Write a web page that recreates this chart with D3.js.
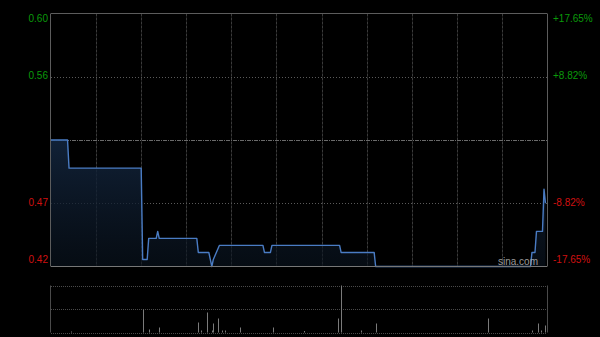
<!DOCTYPE html>
<html>
<head>
<meta charset="utf-8">
<script src="https://cdn.jsdelivr.net/npm/d3@7"></script>
<style>
  html, body { margin: 0; padding: 0; background: #000; }
  svg { display: block; font-family: "Liberation Sans", Arial, sans-serif; }
</style>
</head>
<body>
<div id="container"></div>
<script>
// intraday data, minutes since open (HK session, 330 min) and price
const minutes = [0, 11, 12, 60, 61, 64, 65, 70, 71, 72, 97, 98, 105, 107, 108, 110, 112,
  141, 142, 146, 147, 192, 193, 215, 216, 319, 320, 322, 323, 327, 328, 329];
const prices = [0.51, 0.51, 0.49, 0.49, 0.425, 0.425, 0.44, 0.44, 0.445, 0.44, 0.44, 0.43, 0.43, 0.42, 0.425, 0.43, 0.435,
  0.435, 0.43, 0.43, 0.435, 0.435, 0.43, 0.43, 0.42, 0.42, 0.43, 0.43, 0.445, 0.445, 0.475, 0.465];

// volume bars (minute, volume)
const volMinutes = [13, 61, 65, 72, 98, 100, 104, 107, 108, 111, 114, 116, 126, 148, 168,
  191, 193, 206, 216, 291, 320, 324, 326, 329];
const volumes = [10, 230, 30, 50, 100, 20, 200, 20, 90, 140, 20, 20, 50, 50, 15,
  140, 470, 20, 90, 140, 20, 90, 20, 70];

const prevClose = 0.51;
const priceTicks = [0.60, 0.555, 0.51, 0.465, 0.42];
const priceLabels = ["0.60", "0.56", "", "0.47", "0.42"];
const pctLabels = ["+17.65%", "+8.82%", "", "-8.82%", "-17.65%"];
const timeGrid = [30, 60, 90, 120, 150, 180, 210, 240, 270, 300];

const W = 600, H = 337;
const plot = { left: 51, right: 547, top: 13.5, bottom: 266.5 };
const vol = { top: 285.5, bottom: 332.5 };

const svg = d3.select('#container').append('svg')
  .attr('width', W).attr('height', H)
  .style('background', '#000');

const x = d3.scaleLinear().domain([0, 330]).range([plot.left, plot.right]);
const y = d3.scaleLinear().domain([0.42, 0.60]).range([plot.bottom, plot.top]);
const yv = d3.scaleLinear().domain([0, 470]).range([vol.bottom, vol.top]);

const green = '#0a9a0a', red = '#d01010';

// vertical grid lines in the price panel
const grid = svg.append('g');
grid.selectAll('line.vp').data(timeGrid).enter().append('line')
  .attr('x1', d => Math.round(x(d)) + 0.5).attr('x2', d => Math.round(x(d)) + 0.5)
  .attr('y1', plot.top).attr('y2', plot.bottom)
  .attr('stroke', '#3a3a3a').attr('stroke-dasharray', '3,1');

// horizontal price grid, prev close is dash-dot
grid.selectAll('line.hp').data(priceTicks.slice(1, 4)).enter().append('line')
  .attr('x1', plot.left).attr('x2', plot.right)
  .attr('y1', d => Math.round(y(d)) + 0.5).attr('y2', d => Math.round(y(d)) + 0.5)
  .attr('stroke', d => d === prevClose ? '#6a6a6a' : '#5a5a5a')
  .attr('stroke-dasharray', d => d === prevClose ? '4,1,1,1' : '1,2');

// area + line
const defs = svg.append('defs');
const grad = defs.append('linearGradient').attr('id', 'fillGrad')
  .attr('x1', 0).attr('y1', 0).attr('x2', 0).attr('y2', 1);
grad.append('stop').attr('offset', '0%').attr('stop-color', '#13253d').attr('stop-opacity', 0.9);
grad.append('stop').attr('offset', '100%').attr('stop-color', '#0a1420').attr('stop-opacity', 0.6);

const pts = minutes.map((m, i) => [m, prices[i]]);
const area = d3.area().x(d => x(d[0])).y0(plot.bottom).y1(d => y(d[1]));
const line = d3.line().x(d => x(d[0])).y(d => y(d[1]));

svg.append('path').datum(pts).attr('d', area).attr('fill', 'url(#fillGrad)');
svg.append('path').datum(pts).attr('d', line)
  .attr('fill', 'none').attr('stroke', '#4a7cc4').attr('stroke-width', 1.4)
  .attr('stroke-linejoin', 'round');

// price frame
const frame = svg.append('g').attr('fill', 'none').attr('stroke', '#5c5c5c');
frame.append('line').attr('x1', plot.left).attr('x2', plot.right).attr('y1', plot.top).attr('y2', plot.top);
frame.append('line').attr('x1', plot.left).attr('x2', plot.right).attr('y1', plot.bottom).attr('y2', plot.bottom).attr('stroke', '#777');
frame.append('line').attr('x1', plot.left - 0.5).attr('x2', plot.left - 0.5).attr('y1', plot.top).attr('y2', plot.bottom);
frame.append('line').attr('x1', plot.right + 0.5).attr('x2', plot.right + 0.5).attr('y1', plot.top).attr('y2', plot.bottom);

// axis labels
const labelY = (d, i) => i === 0 ? y(d) + 6 : (i === priceTicks.length - 1 ? y(d) - 6 : y(d));
const colorOf = d => d > prevClose ? green : (d < prevClose ? red : '#aaa');

svg.selectAll('text.lp').data(priceTicks).enter().append('text')
  .attr('x', plot.left - 3).attr('y', labelY)
  .attr('text-anchor', 'end').attr('dominant-baseline', 'middle')
  .attr('font-size', 10).attr('fill', colorOf)
  .text((d, i) => priceLabels[i]);

svg.selectAll('text.rp').data(priceTicks).enter().append('text')
  .attr('x', plot.right + 6).attr('y', labelY)
  .attr('text-anchor', 'start').attr('dominant-baseline', 'middle')
  .attr('font-size', 10).attr('fill', colorOf)
  .text((d, i) => pctLabels[i]);

// watermark
svg.append('text').attr('x', 498).attr('y', 265)
  .attr('font-size', 10).attr('fill', '#b4b4b4').attr('opacity', 0.85)
  .text('sina.com');

// volume panel
const vg = svg.append('g');
[vol.top, (vol.top + vol.bottom) / 2, vol.bottom].forEach(v => {
  vg.append('line').attr('x1', plot.left).attr('x2', plot.right)
    .attr('y1', Math.round(v) + 0.5).attr('y2', Math.round(v) + 0.5)
    .attr('stroke', '#4a4a4a').attr('stroke-dasharray', '1,1');
});
vg.append('line').attr('x1', plot.left - 0.5).attr('x2', plot.left - 0.5)
  .attr('y1', vol.top).attr('y2', vol.bottom).attr('stroke', '#4a4a4a');
vg.append('line').attr('x1', plot.right + 0.5).attr('x2', plot.right + 0.5)
  .attr('y1', vol.top).attr('y2', vol.bottom).attr('stroke', '#4a4a4a');

vg.selectAll('rect').data(volumes).enter().append('rect')
  .attr('x', (d, i) => Math.round(x(volMinutes[i])))
  .attr('width', 1)
  .attr('y', d => yv(d))
  .attr('height', d => vol.bottom - yv(d))
  .attr('fill', '#7a7a7a');
</script>
</body>
</html>
